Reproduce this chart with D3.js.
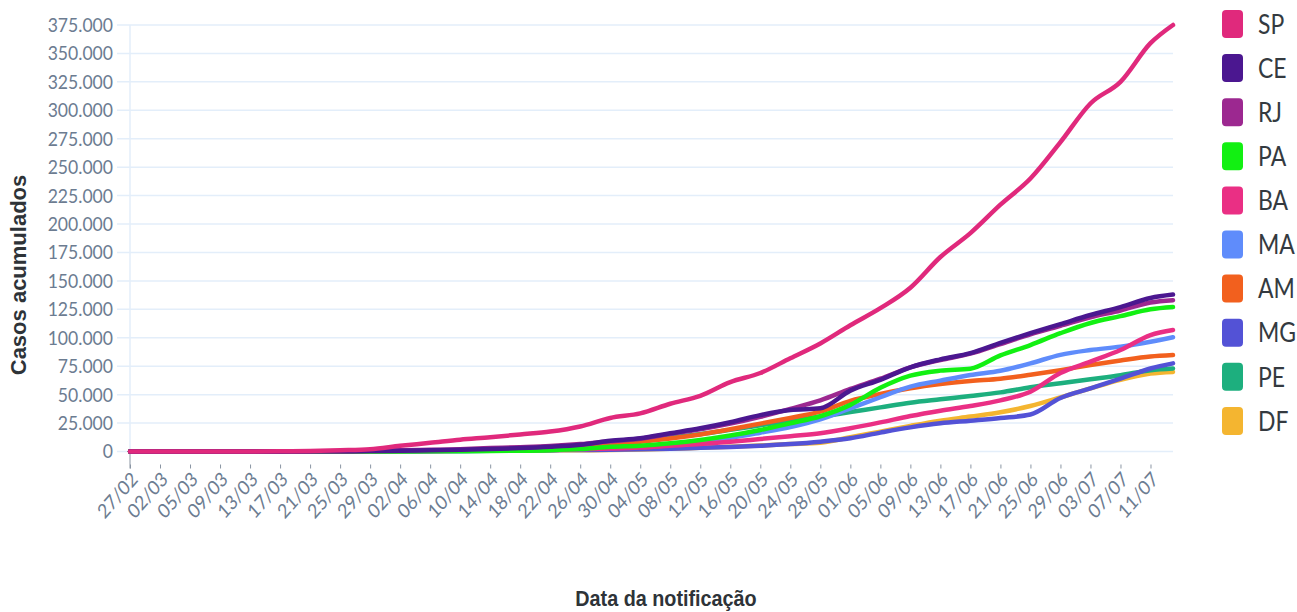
<!DOCTYPE html>
<html lang="pt-BR">
<head>
<meta charset="utf-8">
<title>Casos acumulados por estado</title>
<script src="https://cdn.jsdelivr.net/npm/d3@7"></script>
<style>
  html, body { margin: 0; padding: 0; background: #fff; }
  svg { display: block; }
</style>
</head>
<body>
<div id="grafico"></div>
<script>
// Configuração geral do gráfico
const margin = { top: 25, right: 124, bottom: 160.5, left: 130 };
const width = 1297 - margin.left - margin.right;
const height = 612 - margin.top - margin.bottom;

// Rótulos do eixo X (um a cada 4 categorias) e datas das amostras
const rotulosX = ["27/02", "02/03", "05/03", "09/03", "13/03", "17/03", "21/03", "25/03", "29/03",
    "02/04", "06/04", "10/04", "14/04", "18/04", "22/04", "26/04", "30/04", "04/05", "08/05",
    "12/05", "16/05", "20/05", "24/05", "28/05", "01/06", "05/06", "09/06", "13/06", "17/06",
    "21/06", "25/06", "29/06", "03/07", "07/07", "11/07"];
const datasAmostra = [...rotulosX, "14/07"];
const passoRotulo = 4;     // categorias entre dois rótulos
const nCategorias = 140;   // 27/02 ... 14/07 no eixo categórico do original

const ticksY = [0, 25000, 50000, 75000, 100000, 125000, 150000, 175000, 200000,
    225000, 250000, 275000, 300000, 325000, 350000, 375000];

// Casos acumulados por estado (uma amostra por data acima)
const estados = ["SP", "CE", "RJ", "PA", "BA", "MA", "AM", "MG", "PE", "DF"];
const cores = ["#e0297c", "#4b1790", "#9c2890", "#12f012", "#ea2f84", "#5f8cfb", "#f2601e", "#5352d6", "#1daf7e", "#f4b530"];

const casosSP = [1, 2, 6, 16, 56, 164, 459, 1100, 2000, 5000, 7600, 10400, 12500, 15000, 17500, 22000, 29500, 33500, 42000, 49000, 61000, 69000, 82000, 95000, 111000, 126000, 144000, 171000, 192000, 217000, 240000, 272000, 306000, 325000, 359000, 375000];
const casosCE = [0, 0, 0, 0, 10, 70, 130, 230, 400, 700, 1200, 1600, 2200, 3000, 4200, 6000, 9400, 11600, 16000, 20400, 25700, 32000, 36500, 38000, 53500, 63000, 74000, 81000, 86500, 95500, 104000, 112000, 120000, 127000, 135000, 138000];
const casosRJ = [0, 0, 0, 0, 5, 30, 100, 250, 600, 1000, 1500, 2000, 3000, 3800, 4800, 6500, 9000, 11300, 15500, 19500, 24500, 30500, 37500, 45000, 55000, 64000, 74000, 80500, 86000, 94500, 103000, 110500, 118000, 124000, 131000, 133000];
const casosPA = [0, 0, 0, 0, 0, 2, 5, 10, 40, 100, 180, 300, 450, 700, 1200, 2200, 4100, 5100, 7200, 10100, 14000, 18900, 24800, 31000, 41000, 56000, 66700, 71100, 72800, 84500, 93600, 104000, 113000, 119000, 125000, 127000];
const casosBA = [0, 0, 0, 2, 10, 30, 60, 110, 150, 300, 450, 650, 850, 1100, 1400, 1900, 2600, 3500, 5000, 6500, 8500, 11000, 13500, 16000, 20400, 25600, 31200, 35900, 40000, 45000, 52600, 69000, 79000, 89200, 102400, 106800];
const casosMA = [0, 0, 0, 0, 0, 0, 2, 10, 30, 80, 150, 300, 600, 1000, 1400, 2000, 3000, 4500, 6500, 9000, 12000, 16500, 21500, 28300, 38000, 47700, 57000, 62300, 67300, 71000, 77500, 85000, 89200, 92200, 96500, 100400];
const casosAM = [0, 0, 0, 0, 2, 5, 30, 60, 100, 300, 600, 1000, 1600, 2300, 3000, 4300, 6000, 8500, 11500, 15000, 19500, 24500, 29500, 35000, 44500, 50600, 55600, 59300, 62000, 64000, 67500, 71500, 76000, 80000, 83500, 84800];
const casosMG = [0, 0, 0, 1, 5, 30, 100, 150, 200, 350, 500, 650, 800, 1000, 1200, 1300, 1600, 2000, 2500, 3200, 4000, 5000, 6500, 8600, 11600, 16600, 21200, 24800, 27100, 29500, 32500, 47000, 55500, 64000, 73000, 77500];
const casosPE = [0, 0, 0, 0, 2, 20, 40, 50, 70, 200, 400, 900, 1500, 2400, 3500, 4800, 6500, 9300, 12500, 15200, 19000, 23000, 27000, 30600, 34700, 38800, 42900, 45900, 48800, 52000, 56500, 60000, 63500, 67000, 71500, 73000];
const casosDF = [0, 0, 0, 1, 5, 40, 140, 250, 300, 400, 500, 700, 800, 900, 1000, 1100, 1300, 1800, 2500, 3300, 4200, 5300, 6500, 7700, 12500, 17500, 22500, 27100, 30700, 34500, 40000, 47500, 55500, 63000, 68500, 70000];

const casos = [casosSP, casosCE, casosRJ, casosPA, casosBA, casosMA, casosAM, casosMG, casosPE, casosDF];

// Posição de cada data no eixo categórico
const categoria = datasAmostra.map((d, j) => j < rotulosX.length ? j * passoRotulo : nCategorias - 1);

const locale = d3.formatLocale({ decimal: ",", thousands: ".", grouping: [3], currency: ["R$", ""] });
const fmtY = locale.format(",d");

const series = estados.map((uf, i) => ({
    uf: uf,
    cor: cores[i],
    valores: datasAmostra.map((d, j) => ({ cat: categoria[j], casos: casos[i][j] }))
}));

// Escalas
const x = d3.scaleLinear()
    .domain([0, nCategorias - 1])
    .range([0, width]);

const y = d3.scaleLinear()
    .domain([0, 375000])
    .range([height, 0]);

const svg = d3.select("#grafico")
    .append("svg")
    .attr("width", width + margin.left + margin.right)
    .attr("height", height + margin.top + margin.bottom);

const g = svg.append("g")
    .attr("transform", `translate(${margin.left},${margin.top})`);

// Linhas de grade
g.append("g")
    .selectAll("line")
    .data(ticksY)
    .enter()
    .append("line")
    .attr("x1", -13)
    .attr("x2", width)
    .attr("y1", d => y(d))
    .attr("y2", d => y(d))
    .attr("stroke", "#e3eefa")
    .attr("stroke-width", 1.5);

g.append("line")
    .attr("x1", 0).attr("x2", 0)
    .attr("y1", 0).attr("y2", height)
    .attr("stroke", "#e3eefa")
    .attr("stroke-width", 1.5);

g.append("line")
    .attr("x1", 0).attr("x2", 0)
    .attr("y1", height).attr("y2", height + 17)
    .attr("stroke", "#8a95a3")
    .attr("stroke-width", 1);

// Eixo Y
const eixoY = g.append("g")
    .call(d3.axisLeft(y).tickValues(ticksY).tickFormat(fmtY).tickSize(0).tickPadding(0));
eixoY.select(".domain").remove();
eixoY.selectAll("text")
    .attr("x", -17 / 0.88)
    .attr("transform", "scale(0.88,1)")
    .attr("fill", "#6c7c91")
    .attr("font-family", "Lato, 'Open Sans', sans-serif")
    .attr("font-size", "20px");

// Eixo X
const eixoX = g.append("g")
    .attr("transform", `translate(0,${height + 13})`)
    .call(d3.axisBottom(x)
        .tickValues(rotulosX.map((r, i) => i * passoRotulo))
        .tickFormat(c => rotulosX[c / passoRotulo])
        .tickSize(4));
eixoX.select(".domain").remove();
eixoX.selectAll(".tick line").attr("stroke", "#8a95a3");
eixoX.selectAll("text")
    .attr("x", 0)
    .attr("y", 0)
    .attr("dy", "0.35em")
    .attr("transform", "translate(4,11) scale(0.87,1) rotate(-45)")
    .attr("text-anchor", "end")
    .attr("fill", "#6c7c91")
    .attr("font-family", "Lato, 'Open Sans', sans-serif")
    .attr("font-size", "20px");

// Linhas das séries (a primeira da legenda fica por cima)
const linha = d3.line()
    .x(d => x(d.cat))
    .y(d => y(d.casos))
    .curve(d3.curveMonotoneX);

g.append("g")
    .selectAll("path")
    .data(series.slice().reverse())
    .enter()
    .append("path")
    .attr("d", d => linha(d.valores))
    .attr("fill", "none")
    .attr("stroke", d => d.cor)
    .attr("stroke-width", 4.5)
    .attr("stroke-linejoin", "round")
    .attr("stroke-linecap", "round");

// Títulos dos eixos
svg.append("text")
    .attr("transform", "translate(26,275) rotate(-90)")
    .attr("text-anchor", "middle")
    .attr("font-family", "'Liberation Sans', Arial, sans-serif")
    .attr("font-weight", "bold")
    .attr("font-size", "22px")
    .attr("fill", "#2e3338")
    .text("Casos acumulados");

svg.append("text")
    .attr("transform", "translate(666,606) scale(0.9,1)")
    .attr("text-anchor", "middle")
    .attr("font-family", "'Liberation Sans', Arial, sans-serif")
    .attr("font-weight", "bold")
    .attr("font-size", "22px")
    .attr("fill", "#2e3338")
    .text("Data da notificação");

// Legenda
const legenda = svg.append("g")
    .attr("transform", "translate(1222,0)")
    .selectAll("g")
    .data(series)
    .enter()
    .append("g")
    .attr("transform", (d, i) => `translate(0,${24 + i * 44.1})`);

legenda.append("rect")
    .attr("x", 0)
    .attr("y", -14)
    .attr("width", 21)
    .attr("height", 28)
    .attr("rx", 4)
    .attr("fill", d => d.cor);

legenda.append("text")
    .attr("transform", "translate(36,0) scale(0.85,1)")
    .attr("dy", "0.36em")
    .attr("font-family", "Lato, 'Open Sans', sans-serif")
    .attr("font-size", "27px")
    .attr("fill", "#343a40")
    .text(d => d.uf);
</script>
</body>
</html>
